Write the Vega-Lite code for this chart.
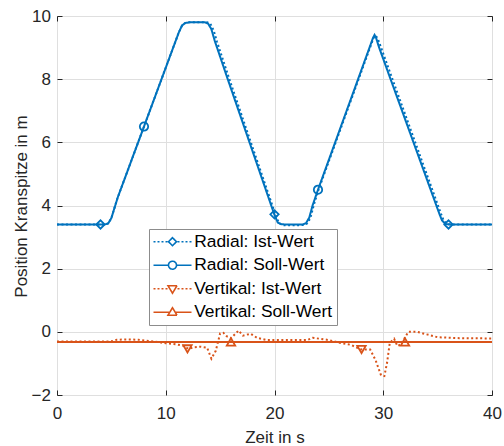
{
  "$schema": "https://vega.github.io/schema/vega-lite/v6.json",
  "width": 435,
  "height": 379,
  "autosize": "none",
  "padding": {"left": 57, "top": 16, "right": 12, "bottom": 51},
  "background": "white",
  "datasets": {
    "lines": [
      {"s": "Radial: Ist-Wert", "t": 0, "v": 3.4},
      {"s": "Radial: Ist-Wert", "t": 4.4, "v": 3.4},
      {"s": "Radial: Ist-Wert", "t": 4.7, "v": 3.43},
      {"s": "Radial: Ist-Wert", "t": 5.0, "v": 3.6},
      {"s": "Radial: Ist-Wert", "t": 5.3, "v": 3.94},
      {"s": "Radial: Ist-Wert", "t": 5.6, "v": 4.27},
      {"s": "Radial: Ist-Wert", "t": 8, "v": 6.5},
      {"s": "Radial: Ist-Wert", "t": 11.2, "v": 9.48},
      {"s": "Radial: Ist-Wert", "t": 11.5, "v": 9.7},
      {"s": "Radial: Ist-Wert", "t": 11.8, "v": 9.78},
      {"s": "Radial: Ist-Wert", "t": 12.2, "v": 9.8},
      {"s": "Radial: Ist-Wert", "t": 13.8, "v": 9.8},
      {"s": "Radial: Ist-Wert", "t": 14.1, "v": 9.76},
      {"s": "Radial: Ist-Wert", "t": 14.4, "v": 9.55},
      {"s": "Radial: Ist-Wert", "t": 14.7, "v": 9.2},
      {"s": "Radial: Ist-Wert", "t": 15.85, "v": 8.0},
      {"s": "Radial: Ist-Wert", "t": 20.1, "v": 3.7},
      {"s": "Radial: Ist-Wert", "t": 20.4, "v": 3.45},
      {"s": "Radial: Ist-Wert", "t": 20.7, "v": 3.38},
      {"s": "Radial: Ist-Wert", "t": 21.1, "v": 3.37},
      {"s": "Radial: Ist-Wert", "t": 22.7, "v": 3.38},
      {"s": "Radial: Ist-Wert", "t": 23.0, "v": 3.43},
      {"s": "Radial: Ist-Wert", "t": 23.3, "v": 3.6},
      {"s": "Radial: Ist-Wert", "t": 23.6, "v": 4.0},
      {"s": "Radial: Ist-Wert", "t": 24.05, "v": 4.5},
      {"s": "Radial: Ist-Wert", "t": 28.85, "v": 9.06},
      {"s": "Radial: Ist-Wert", "t": 29.1, "v": 9.3},
      {"s": "Radial: Ist-Wert", "t": 29.3, "v": 9.38},
      {"s": "Radial: Ist-Wert", "t": 29.5, "v": 9.28},
      {"s": "Radial: Ist-Wert", "t": 29.8, "v": 9.0},
      {"s": "Radial: Ist-Wert", "t": 35.15, "v": 3.89},
      {"s": "Radial: Ist-Wert", "t": 35.35, "v": 3.7},
      {"s": "Radial: Ist-Wert", "t": 35.55, "v": 3.53},
      {"s": "Radial: Ist-Wert", "t": 35.85, "v": 3.42},
      {"s": "Radial: Ist-Wert", "t": 36.2, "v": 3.4},
      {"s": "Radial: Ist-Wert", "t": 40, "v": 3.4},

      {"s": "Radial: Soll-Wert", "t": 0, "v": 3.4},
      {"s": "Radial: Soll-Wert", "t": 4.4, "v": 3.4},
      {"s": "Radial: Soll-Wert", "t": 4.7, "v": 3.43},
      {"s": "Radial: Soll-Wert", "t": 5.0, "v": 3.6},
      {"s": "Radial: Soll-Wert", "t": 5.3, "v": 3.94},
      {"s": "Radial: Soll-Wert", "t": 5.6, "v": 4.27},
      {"s": "Radial: Soll-Wert", "t": 8, "v": 6.5},
      {"s": "Radial: Soll-Wert", "t": 11.2, "v": 9.48},
      {"s": "Radial: Soll-Wert", "t": 11.5, "v": 9.7},
      {"s": "Radial: Soll-Wert", "t": 11.8, "v": 9.78},
      {"s": "Radial: Soll-Wert", "t": 12.2, "v": 9.8},
      {"s": "Radial: Soll-Wert", "t": 13.6, "v": 9.8},
      {"s": "Radial: Soll-Wert", "t": 13.9, "v": 9.76},
      {"s": "Radial: Soll-Wert", "t": 14.2, "v": 9.58},
      {"s": "Radial: Soll-Wert", "t": 14.5, "v": 9.22},
      {"s": "Radial: Soll-Wert", "t": 15.7, "v": 8.0},
      {"s": "Radial: Soll-Wert", "t": 20, "v": 3.7},
      {"s": "Radial: Soll-Wert", "t": 20.3, "v": 3.46},
      {"s": "Radial: Soll-Wert", "t": 20.6, "v": 3.41},
      {"s": "Radial: Soll-Wert", "t": 21, "v": 3.4},
      {"s": "Radial: Soll-Wert", "t": 22.6, "v": 3.4},
      {"s": "Radial: Soll-Wert", "t": 22.9, "v": 3.44},
      {"s": "Radial: Soll-Wert", "t": 23.2, "v": 3.62},
      {"s": "Radial: Soll-Wert", "t": 23.5, "v": 4.0},
      {"s": "Radial: Soll-Wert", "t": 24, "v": 4.5},
      {"s": "Radial: Soll-Wert", "t": 28.8, "v": 9.06},
      {"s": "Radial: Soll-Wert", "t": 29.05, "v": 9.3},
      {"s": "Radial: Soll-Wert", "t": 29.2, "v": 9.4},
      {"s": "Radial: Soll-Wert", "t": 29.35, "v": 9.3},
      {"s": "Radial: Soll-Wert", "t": 29.6, "v": 9.02},
      {"s": "Radial: Soll-Wert", "t": 35, "v": 3.89},
      {"s": "Radial: Soll-Wert", "t": 35.2, "v": 3.7},
      {"s": "Radial: Soll-Wert", "t": 35.4, "v": 3.53},
      {"s": "Radial: Soll-Wert", "t": 35.7, "v": 3.42},
      {"s": "Radial: Soll-Wert", "t": 36, "v": 3.4},
      {"s": "Radial: Soll-Wert", "t": 40, "v": 3.4},

      {"s": "Vertikal: Ist-Wert", "t": 0, "v": -0.31},
      {"s": "Vertikal: Ist-Wert", "t": 4, "v": -0.31},
      {"s": "Vertikal: Ist-Wert", "t": 5, "v": -0.3},
      {"s": "Vertikal: Ist-Wert", "t": 5.5, "v": -0.25},
      {"s": "Vertikal: Ist-Wert", "t": 6.5, "v": -0.24},
      {"s": "Vertikal: Ist-Wert", "t": 7.5, "v": -0.25},
      {"s": "Vertikal: Ist-Wert", "t": 8.2, "v": -0.28},
      {"s": "Vertikal: Ist-Wert", "t": 9, "v": -0.31},
      {"s": "Vertikal: Ist-Wert", "t": 10, "v": -0.36},
      {"s": "Vertikal: Ist-Wert", "t": 11, "v": -0.4},
      {"s": "Vertikal: Ist-Wert", "t": 11.6, "v": -0.44},
      {"s": "Vertikal: Ist-Wert", "t": 12.1, "v": -0.54},
      {"s": "Vertikal: Ist-Wert", "t": 12.6, "v": -0.49},
      {"s": "Vertikal: Ist-Wert", "t": 13.2, "v": -0.47},
      {"s": "Vertikal: Ist-Wert", "t": 13.8, "v": -0.5},
      {"s": "Vertikal: Ist-Wert", "t": 14.2, "v": -0.85},
      {"s": "Vertikal: Ist-Wert", "t": 14.6, "v": -0.6},
      {"s": "Vertikal: Ist-Wert", "t": 15.0, "v": -0.05},
      {"s": "Vertikal: Ist-Wert", "t": 15.3, "v": -0.03},
      {"s": "Vertikal: Ist-Wert", "t": 15.6, "v": -0.14},
      {"s": "Vertikal: Ist-Wert", "t": 16.0, "v": -0.2},
      {"s": "Vertikal: Ist-Wert", "t": 16.7, "v": 0.04},
      {"s": "Vertikal: Ist-Wert", "t": 17.1, "v": -0.12},
      {"s": "Vertikal: Ist-Wert", "t": 17.8, "v": -0.06},
      {"s": "Vertikal: Ist-Wert", "t": 18.4, "v": -0.19},
      {"s": "Vertikal: Ist-Wert", "t": 19.3, "v": -0.26},
      {"s": "Vertikal: Ist-Wert", "t": 21, "v": -0.26},
      {"s": "Vertikal: Ist-Wert", "t": 23, "v": -0.26},
      {"s": "Vertikal: Ist-Wert", "t": 23.5, "v": -0.19},
      {"s": "Vertikal: Ist-Wert", "t": 24.2, "v": -0.22},
      {"s": "Vertikal: Ist-Wert", "t": 25, "v": -0.26},
      {"s": "Vertikal: Ist-Wert", "t": 26, "v": -0.35},
      {"s": "Vertikal: Ist-Wert", "t": 27, "v": -0.41},
      {"s": "Vertikal: Ist-Wert", "t": 28, "v": -0.56},
      {"s": "Vertikal: Ist-Wert", "t": 28.8, "v": -0.56},
      {"s": "Vertikal: Ist-Wert", "t": 29.3, "v": -0.9},
      {"s": "Vertikal: Ist-Wert", "t": 29.8, "v": -1.38},
      {"s": "Vertikal: Ist-Wert", "t": 30.1, "v": -1.4},
      {"s": "Vertikal: Ist-Wert", "t": 30.35, "v": -0.98},
      {"s": "Vertikal: Ist-Wert", "t": 30.6, "v": -0.35},
      {"s": "Vertikal: Ist-Wert", "t": 31.0, "v": -0.22},
      {"s": "Vertikal: Ist-Wert", "t": 31.3, "v": -0.45},
      {"s": "Vertikal: Ist-Wert", "t": 31.6, "v": -0.4},
      {"s": "Vertikal: Ist-Wert", "t": 31.9, "v": -0.24},
      {"s": "Vertikal: Ist-Wert", "t": 32.3, "v": 0.0},
      {"s": "Vertikal: Ist-Wert", "t": 33.1, "v": 0.0},
      {"s": "Vertikal: Ist-Wert", "t": 34, "v": -0.08},
      {"s": "Vertikal: Ist-Wert", "t": 35, "v": -0.17},
      {"s": "Vertikal: Ist-Wert", "t": 37, "v": -0.2},
      {"s": "Vertikal: Ist-Wert", "t": 40, "v": -0.21},

      {"s": "Vertikal: Soll-Wert", "t": 0, "v": -0.32},
      {"s": "Vertikal: Soll-Wert", "t": 40, "v": -0.32}
    ],
    "markers": [
      {"s": "Radial: Ist-Wert", "t": 4, "v": 3.4},
      {"s": "Radial: Ist-Wert", "t": 20, "v": 3.72},
      {"s": "Radial: Ist-Wert", "t": 36, "v": 3.4},
      {"s": "Radial: Soll-Wert", "t": 8, "v": 6.5},
      {"s": "Radial: Soll-Wert", "t": 24, "v": 4.5},
      {"s": "Vertikal: Ist-Wert", "t": 12, "v": -0.54},
      {"s": "Vertikal: Ist-Wert", "t": 28, "v": -0.56},
      {"s": "Vertikal: Soll-Wert", "t": 16, "v": -0.32},
      {"s": "Vertikal: Soll-Wert", "t": 32, "v": -0.32}
    ]
  },
  "layer": [
    {
      "data": {"name": "lines"},
      "mark": {"type": "line", "strokeWidth": 2},
      "encoding": {
        "x": {
          "field": "t", "type": "quantitative",
          "scale": {"domain": [0, 40], "nice": false, "zero": false},
          "axis": {
            "orient": "bottom", "values": [0, 10, 20, 30, 40], "title": "Zeit in s",
            "grid": true, "tickSize": -5, "labelPadding": 15.7, "labelFlush": false,
            "titleY": 42.5, "titleBaseline": "middle"
          }
        },
        "y": {
          "field": "v", "type": "quantitative",
          "scale": {"domain": [-2, 10], "nice": false, "zero": false},
          "axis": {
            "orient": "left", "values": [-2, 0, 2, 4, 6, 8, 10], "title": "Position Kranspitze in m",
            "grid": true, "tickSize": -5, "labelPadding": 11.6, "labelFlush": false,
            "titleX": -36, "titleY": 190, "titleBaseline": "middle", "titleAngle": 270
          }
        },
        "color": {
          "field": "s", "type": "nominal",
          "scale": {
            "domain": ["Radial: Ist-Wert", "Radial: Soll-Wert", "Vertikal: Ist-Wert", "Vertikal: Soll-Wert"],
            "range": ["#0072BD", "#0072BD", "#D95319", "#D95319"]
          },
          "legend": {
            "orient": "none", "legendX": 92, "legendY": 213, "title": null,
            "padding": 4, "strokeColor": "#8c8c8c", "fillColor": "white",
            "labelFont": "Liberation Sans", "labelFontSize": 17.4, "labelColor": "black",
            "labelLimit": 400,
            "symbolSize": 100, "symbolStrokeWidth": 1.6, "symbolOffset": 10.8,
            "labelOffset": 13, "rowPadding": 4.5,
            "encoding": {
              "symbols": {
                "fill": {"value": "transparent"},
                "strokeCap": {"value": "butt"},
                "strokeDash": {"value": [1, 0]},
                "shape": {
                  "condition": [
                    {"test": "datum.value === 'Radial: Ist-Wert'", "value": "M-3.8,0H-3.4M-3,0H-2.6M-2.2,0H-1.8M-1.4,0H-1M1,0H1.4M1.8,0H2.2M2.6,0H3M3.4,0H3.8M-0.8,0L0,-0.8L0.8,0L0,0.8Z"},
                    {"test": "datum.value === 'Radial: Soll-Wert'", "value": "M-3.8,0H-0.8M0.8,0H3.8M0.8,0A0.8,0.8,0,1,1,-0.8,0A0.8,0.8,0,1,1,0.8,0Z"},
                    {"test": "datum.value === 'Vertikal: Ist-Wert'", "value": "M-3.8,0H-3.4M-3,0H-2.6M-2.2,0H-1.8M-1.4,0H-1M1,0H1.4M1.8,0H2.2M2.6,0H3M3.4,0H3.8M-0.9,-0.6L0.9,-0.6L0,0.9Z"}
                  ],
                  "value": "M-3.8,0H-0.7M0.7,0H3.8M-0.9,0.6L0.9,0.6L0,-0.9Z"
                }
              }
            }
          }
        },
        "strokeDash": {
          "field": "s", "type": "nominal",
          "scale": {
            "range": [[2, 2.5], [1, 0], [2, 2.5], [1, 0]]
          },
          "legend": null
        }
      }
    },
    {
      "data": {"name": "markers"},
      "mark": {"type": "point", "filled": false, "strokeWidth": 1.8, "size": 70, "opacity": 1},
      "encoding": {
        "x": {
          "field": "t", "type": "quantitative",
          "axis": {"orient": "top", "values": [0, 10, 20, 30, 40], "labels": false, "grid": false, "title": null, "tickSize": -5}
        },
        "y": {
          "field": "v", "type": "quantitative",
          "axis": {"orient": "right", "values": [-2, 0, 2, 4, 6, 8, 10], "labels": false, "grid": false, "title": null, "tickSize": -5}
        },
        "color": {"field": "s", "type": "nominal"},
        "shape": {
          "field": "s", "type": "nominal",
          "scale": {
            "range": ["diamond", "circle", "triangle-down", "triangle-up"]
          },
          "legend": null
        }
      }
    }
  ],
  "resolve": {"axis": {"x": "independent", "y": "independent"}},
  "config": {
    "view": {"stroke": "#666666", "strokeWidth": 1},
    "axis": {
      "labelFont": "Liberation Sans", "labelFontSize": 17, "labelColor": "#262626",
      "titleFont": "Liberation Sans", "titleFontSize": 17, "titleColor": "#262626", "titleFontWeight": "normal",
      "gridColor": "#dfdfdf", "gridWidth": 1, "domain": false,
      "tickColor": "#262626", "tickWidth": 1, "labelOverlap": false
    }
  }
}
